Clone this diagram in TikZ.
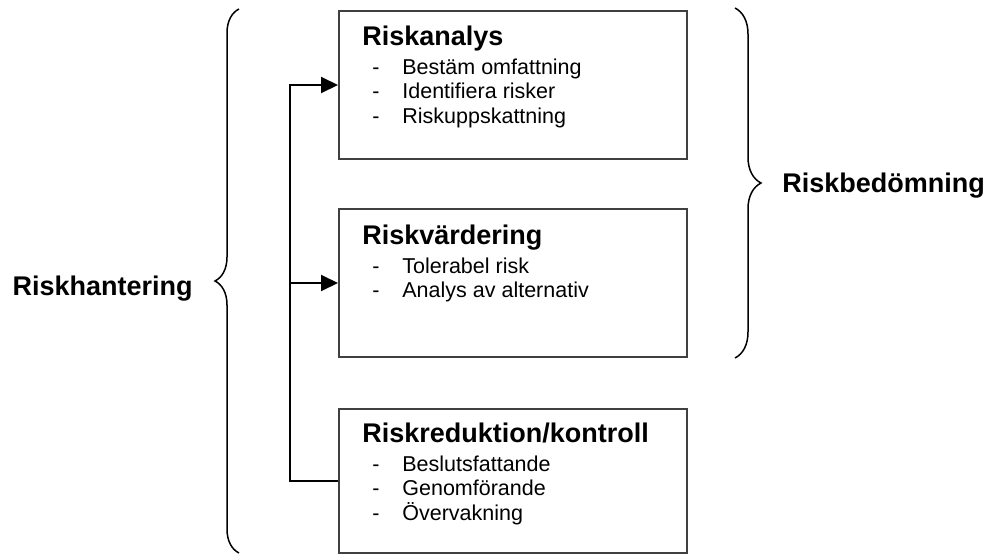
\documentclass[tikz,border=0pt]{standalone}
\usepackage{fontspec}
\setmainfont{Liberation Sans}
\usetikzlibrary{arrows.meta, positioning, calc, decorations.pathreplacing}

\newcommand{\riskrubrik}[1]{{\fontsize{13.5}{16}\selectfont\bfseries #1}}
\newcommand{\riskpunkt}[1]{\hspace*{5pt}\makebox[15pt][l]{-}#1}

\begin{document}
\begin{tikzpicture}[x=0.5pt, y=-0.5pt,
            ruta/.style={draw=black!75, line width=1pt, anchor=north west, minimum width=174pt, inner sep=0pt},
            innehall/.style={anchor=base west, inner sep=0pt, font=\fontsize{10.75}{12.25}\selectfont},
            pil/.style={-{Triangle[length=8.5pt, width=8pt]}, line width=1pt},
            klammer/.style={decorate, decoration={brace, amplitude=12pt}, line width=0.75pt},
            etikett/.style={inner sep=0pt, font=\fontsize{13.5}{16}\selectfont\bfseries}
        ]
            \useasboundingbox (0,0) rectangle (987,553);

            % the three boxes
            \node[ruta, minimum height=74pt] (ana) at (338,10) {};
            \node[ruta, minimum height=74pt] (var) at (338,208) {};
            \node[ruta, minimum height=72pt] (red) at (338,408) {};

            % box texts
            \node[innehall] (anatext) at ($(ana.north west)+(24,35)$) {\begin{tabular}[t]{@{}l@{}}
                \riskrubrik{Riskanalys}\\[2.25pt]
                \riskpunkt{Bestäm omfattning}\\
                \riskpunkt{Identifiera risker}\\
                \riskpunkt{Riskuppskattning}
            \end{tabular}};
            \node[innehall] (vartext) at ($(var.north west)+(24,36)$) {\begin{tabular}[t]{@{}l@{}}
                \riskrubrik{Riskvärdering}\\[2.25pt]
                \riskpunkt{Tolerabel risk}\\
                \riskpunkt{Analys av alternativ}
            \end{tabular}};
            \node[innehall] (redtext) at ($(red.north west)+(24,34)$) {\begin{tabular}[t]{@{}l@{}}
                \riskrubrik{Riskreduktion/kontroll}\\[2.25pt]
                \riskpunkt{Beslutsfattande}\\
                \riskpunkt{Genomförande}\\
                \riskpunkt{Övervakning}
            \end{tabular}};

            % feedback line
            \coordinate (knut) at ($(red.west)+(-48,0)$);
            \draw[pil] (red.west) -- (knut) |- (ana.west);
            \draw[pil] (knut |- var.west) -- (var.west);

            % braces
            \coordinate (vtopp) at (239,9);
            \coordinate (vbotten) at (239,553);
            \coordinate (htopp) at (735,8);
            \coordinate (hbotten) at (735,358);
            \draw[klammer] (vbotten) -- (vtopp);
            \draw[klammer, decoration={amplitude=13pt}] (htopp) -- (hbotten);

            % labels
            \node[etikett, anchor=base east] (hant) at (193,295) {Riskhantering};
            \node[etikett, anchor=base west] (bed) at (782,192) {Riskbedömning};
        \end{tikzpicture}
\end{document}
